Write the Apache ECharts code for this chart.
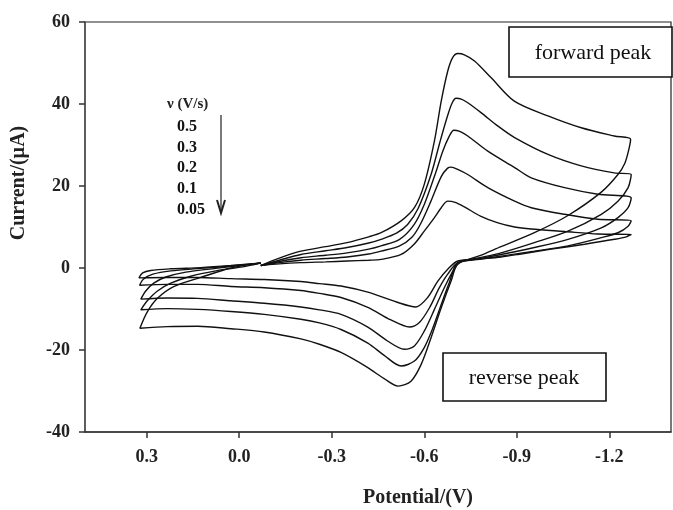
<!DOCTYPE html>
<html>
<head>
<meta charset="utf-8">
<script src="https://cdn.jsdelivr.net/npm/echarts@6/dist/echarts.min.js"></script>
<style>html,body{margin:0;padding:0;background:#fff;}#chart{width:673px;height:510px;}</style>
</head>
<body>
<div id="chart"></div>
<script>
// Scan rates (V/s), largest loop first
const scanRates = ['0.5', '0.3', '0.2', '0.1', '0.05'];
const potentialTicks = [0.3, 0.0, -0.3, -0.6, -0.9, -1.2];
const currentTicks = [-40, -20, 0, 20, 40, 60];

// Each loop: [potential (V), current (µA)] in scan order
const cv_05 = [
  [-0.07,0.6],[-0.13,2.4],[-0.2,4.1],[-0.28,5.2],[-0.35,6.2],[-0.42,7.6],[-0.46,8.6],[-0.525,11.5],[-0.568,14.7],[-0.6,20.4],[-0.633,31.0],[-0.655,40.7],[-0.676,48.0],[-0.692,51.3],[-0.709,52.3],[-0.73,52.0],[-0.763,50.5],[-0.817,46.4],[-0.892,40.7],[-1.001,37.1],[-1.109,34.2],[-1.216,32.2],[-1.269,31.4],
  [-1.262,28.5],[-1.25,25.5],[-1.228,22.8],[-1.174,18.5],[-1.066,12.8],[-0.957,8.6],[-0.849,5.2],[-0.78,3.0],[-0.709,0.9],
  [-0.687,-3.2],[-0.655,-9.7],[-0.622,-17.0],[-0.59,-23.5],[-0.557,-27.6],[-0.515,-28.8],[-0.47,-27.0],[-0.417,-24.3],[-0.33,-20.6],[-0.26,-18.6],[-0.2,-17.3],[-0.081,-15.6],[0.027,-14.8],[0.135,-14.2],[0.233,-14.3],[0.322,-14.7],
  [0.298,-10.7],[0.265,-7.4],[0.211,-4.5],[0.125,-2.3],[0.027,0.0],[-0.07,1.3]
];
const cv_03 = [
  [-0.07,0.6],[-0.13,1.9],[-0.2,3.3],[-0.28,4.2],[-0.35,5.0],[-0.42,6.1],[-0.46,7.0],[-0.51,8.5],[-0.546,10.6],[-0.58,14.5],[-0.622,22.8],[-0.65,30.5],[-0.675,37.0],[-0.69,40.2],[-0.703,41.4],[-0.72,41.2],[-0.741,40.3],[-0.784,37.9],[-0.839,34.6],[-0.893,31.8],[-1.001,27.7],[-1.109,24.9],[-1.216,23.2],[-1.271,22.8],
  [-1.261,19.6],[-1.228,16.3],[-1.174,13.1],[-1.066,9.0],[-0.957,6.2],[-0.849,3.7],[-0.78,2.5],[-0.709,1.3],
  [-0.681,-3.6],[-0.655,-8.9],[-0.628,-14.6],[-0.6,-19.4],[-0.568,-22.7],[-0.525,-23.9],[-0.47,-21.3],[-0.417,-18.3],[-0.33,-15.0],[-0.26,-13.4],[-0.2,-12.5],[-0.081,-11.3],[0.027,-10.6],[0.135,-10.1],[0.233,-9.9],[0.319,-10.2],
  [0.298,-8.0],[0.265,-5.6],[0.222,-3.7],[0.157,-2.0],[0.076,-0.7],[-0.005,0.2],[-0.07,1.2]
];
const cv_02 = [
  [-0.07,0.6],[-0.13,1.6],[-0.2,2.5],[-0.28,3.1],[-0.35,3.7],[-0.42,4.6],[-0.46,5.4],[-0.52,7.0],[-0.567,10.6],[-0.6,15.5],[-0.635,22.8],[-0.66,28.5],[-0.68,32.0],[-0.696,33.6],[-0.715,33.3],[-0.741,32.2],[-0.806,28.5],[-0.893,24.5],[-0.947,22.0],[-1.055,19.6],[-1.163,18.0],[-1.271,17.1],
  [-1.261,14.7],[-1.228,12.3],[-1.174,9.8],[-1.066,7.0],[-0.957,5.0],[-0.849,3.3],[-0.78,2.3],[-0.709,1.3],
  [-0.693,-0.7],[-0.665,-4.8],[-0.633,-10.1],[-0.6,-15.4],[-0.568,-19.0],[-0.535,-19.8],[-0.481,-17.8],[-0.417,-14.4],[-0.33,-11.3],[-0.26,-10.2],[-0.2,-9.5],[-0.081,-8.6],[0.027,-8.0],[0.135,-7.4],[0.233,-7.3],[0.319,-7.6],
  [0.303,-5.6],[0.277,-3.7],[0.238,-2.2],[0.173,-1.0],[0.076,-0.1],[-0.07,1.2]
];
const cv_01 = [
  [-0.07,0.6],[-0.13,1.3],[-0.2,1.9],[-0.28,2.3],[-0.35,2.7],[-0.42,3.4],[-0.46,4.1],[-0.52,5.4],[-0.56,7.5],[-0.587,10.6],[-0.62,16.0],[-0.655,22.3],[-0.675,24.3],[-0.687,24.6],[-0.71,24.0],[-0.741,22.8],[-0.806,19.6],[-0.893,16.3],[-0.947,14.7],[-1.055,13.1],[-1.163,11.9],[-1.271,11.5],
  [-1.261,10.2],[-1.228,8.6],[-1.174,7.4],[-1.066,5.4],[-0.957,4.1],[-0.849,2.9],[-0.78,2.1],[-0.709,1.3],
  [-0.676,-1.5],[-0.649,-4.8],[-0.617,-9.7],[-0.584,-13.3],[-0.552,-14.4],[-0.49,-12.6],[-0.417,-9.6],[-0.33,-7.2],[-0.26,-6.2],[-0.2,-5.5],[-0.081,-4.8],[0.027,-4.5],[0.135,-4.0],[0.233,-4.0],[0.323,-4.2],
  [0.31,-2.7],[0.28,-1.5],[0.222,-0.7],[0.125,-0.1],[0.027,0.5],[-0.07,1.2]
];
const cv_005 = [
  [-0.07,0.6],[-0.13,1.0],[-0.2,1.3],[-0.28,1.5],[-0.35,1.7],[-0.42,1.9],[-0.46,2.1],[-0.525,3.3],[-0.567,5.8],[-0.6,9.0],[-0.633,12.3],[-0.655,14.7],[-0.676,16.3],[-0.7,16.0],[-0.73,14.9],[-0.784,12.6],[-0.839,11.0],[-0.893,10.0],[-0.947,9.5],[-1.055,8.9],[-1.163,8.3],[-1.271,8.2],
  [-1.255,7.6],[-1.217,7.0],[-1.12,5.8],[-1.012,4.6],[-0.904,3.3],[-0.849,2.7],[-0.78,2.2],[-0.709,1.7],
  [-0.676,-0.3],[-0.644,-3.2],[-0.611,-7.2],[-0.573,-9.5],[-0.51,-8.3],[-0.417,-5.9],[-0.33,-4.4],[-0.26,-3.8],[-0.2,-3.3],[-0.081,-2.8],[0.027,-2.6],[0.135,-2.3],[0.233,-2.3],[0.325,-2.4],
  [0.313,-1.2],[0.287,-0.6],[0.222,-0.2],[0.125,0.1],[0.027,0.6],[-0.07,1.2]
];
const loops = [cv_05, cv_03, cv_02, cv_01, cv_005];

const SERIF = '"Liberation Serif", "Times New Roman", serif';
const chart = echarts.init(document.getElementById('chart'), null, {renderer: 'canvas'});

const series = loops.map((d, i) => ({
  name: scanRates[i] + ' V/s',
  type: 'line',
  data: d,
  showSymbol: false,
  smooth: 0.3,
  lineStyle: {color: '#111', width: 1.4},
  silent: true
}));

const legendLines = scanRates.map((r, i) => ({
  type: 'text', left: 177, top: 119 + i * 20.6,
  style: {text: r, font: 'bold 16px ' + SERIF, fill: '#111'}
}));

chart.setOption({
  animation: false,
  backgroundColor: '#fff',
  grid: {left: 85, right: 2, top: 22, bottom: 78, show: true, borderColor: '#222', borderWidth: 1.2, backgroundColor: 'transparent'},
  xAxis: {
    type: 'value', inverse: true, min: -1.4, max: 0.5,
    axisLine: {show: true, onZero: false, lineStyle: {color: '#333', width: 1.5}},
    axisTick: {show: true, length: 6, customValues: potentialTicks, lineStyle: {color: '#333', width: 1.5}},
    axisLabel: {customValues: potentialTicks, margin: 16, color: '#222', fontFamily: SERIF, fontWeight: 'bold', fontSize: 18,
      formatter: v => Number(v).toFixed(1)},
    splitLine: {show: false}
  },
  yAxis: {
    type: 'value', min: -40, max: 60, interval: 20,
    axisLine: {show: true, onZero: false, lineStyle: {color: '#555', width: 1.5}},
    axisTick: {show: true, length: 6, lineStyle: {color: '#333', width: 1.5}},
    axisLabel: {margin: 15, color: '#222', fontFamily: SERIF, fontWeight: 'bold', fontSize: 18},
    splitLine: {show: false}
  },
  series: series,
  graphic: [
    {type: 'text', x: 19, y: 183, rotation: Math.PI / 2,
      style: {text: 'Current/(µA)', font: 'bold 20px ' + SERIF, fill: '#222', align: 'center', verticalAlign: 'middle'}},
    {type: 'text', x: 418, y: 498,
      style: {text: 'Potential/(V)', font: 'bold 20px ' + SERIF, fill: '#222', align: 'center', verticalAlign: 'middle'}},
    {type: 'text', left: 167, top: 97, style: {text: 'ν (V/s)', font: 'bold 15px ' + SERIF, fill: '#222'}},
    ...legendLines,
    {type: 'line', shape: {x1: 221, y1: 115, x2: 221, y2: 212}, style: {stroke: '#222', lineWidth: 1.2}},
    {type: 'polyline', shape: {points: [[217, 200], [221, 213], [225, 200]]}, style: {stroke: '#222', lineWidth: 2, fill: null}},
    {type: 'rect', shape: {x: 509, y: 27, width: 163, height: 50}, style: {stroke: '#111', lineWidth: 1.6, fill: '#fff'}},
    {type: 'text', x: 593, y: 53, style: {text: 'forward peak', font: '22px ' + SERIF, fill: '#111', align: 'center', verticalAlign: 'middle'}},
    {type: 'rect', shape: {x: 443, y: 353, width: 163, height: 48}, style: {stroke: '#111', lineWidth: 1.6, fill: '#fff'}},
    {type: 'text', x: 524, y: 378, style: {text: 'reverse peak', font: '22px ' + SERIF, fill: '#111', align: 'center', verticalAlign: 'middle'}}
  ]
});
</script>
</body>
</html>
